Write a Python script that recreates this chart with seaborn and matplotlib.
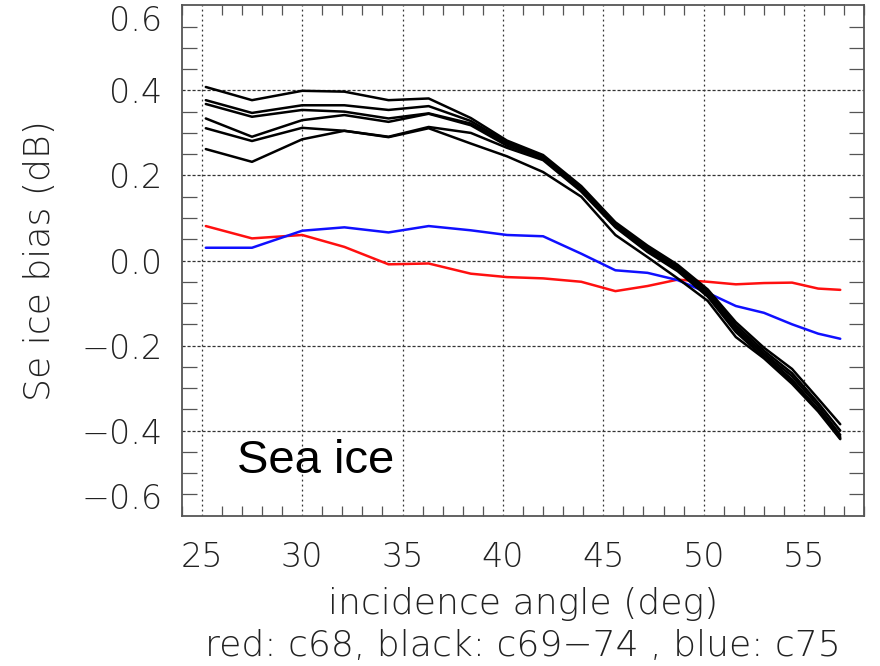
import matplotlib
matplotlib.use("Agg")
import matplotlib.pyplot as plt
from matplotlib.ticker import MultipleLocator
import seaborn as sns
import numpy as np
import pandas as pd

# ---- data ----
angles = [25.2, 27.5, 30.0, 32.1, 34.3, 36.3, 38.4, 40.2, 42.0, 43.9,
          45.6, 47.2, 48.7, 50.2, 51.6, 53.0, 54.4, 55.7, 56.8]

red_c68 = [0.081, 0.052, 0.060, 0.032, -0.009, -0.007, -0.031, -0.039, -0.042, -0.050,
           -0.072, -0.060, -0.045, -0.050, -0.056, -0.053, -0.052, -0.066, -0.069]

blue_c75 = [0.030, 0.030, 0.070, 0.078, 0.066, 0.081, 0.071, 0.060, 0.057, 0.016,
            -0.023, -0.029, -0.046, -0.076, -0.107, -0.123, -0.150, -0.172, -0.184]

black_c69 = [0.408, 0.377, 0.399, 0.397, 0.377, 0.381, 0.335, 0.282, 0.248, 0.175,
             0.090, 0.035, -0.010, -0.068, -0.145, -0.205, -0.255, -0.325, -0.385]
black_c70 = [0.377, 0.347, 0.365, 0.365, 0.354, 0.363, 0.328, 0.278, 0.245, 0.170,
             0.085, 0.030, -0.015, -0.072, -0.152, -0.212, -0.265, -0.335, -0.400]
black_c71 = [0.368, 0.338, 0.354, 0.350, 0.334, 0.346, 0.322, 0.275, 0.242, 0.168,
             0.083, 0.027, -0.018, -0.078, -0.158, -0.218, -0.272, -0.342, -0.410]
black_c72 = [0.334, 0.291, 0.330, 0.342, 0.326, 0.345, 0.318, 0.270, 0.240, 0.165,
             0.080, 0.022, -0.022, -0.082, -0.163, -0.222, -0.280, -0.350, -0.415]
black_c73 = [0.311, 0.281, 0.312, 0.305, 0.291, 0.314, 0.300, 0.265, 0.236, 0.162,
             0.078, 0.020, -0.025, -0.085, -0.168, -0.228, -0.285, -0.352, -0.418]
black_c74 = [0.262, 0.232, 0.285, 0.305, 0.290, 0.311, 0.275, 0.245, 0.208, 0.150,
             0.060, 0.008, -0.042, -0.095, -0.180, -0.230, -0.290, -0.355, -0.420]

x_ticks = [25, 30, 35, 40, 45, 50, 55]
y_ticks = [-0.6, -0.4, -0.2, 0.0, 0.2, 0.4, 0.6]
y_ticklabels = ["\u22120.6", "\u22120.4", "\u22120.2", "0.0", "0.2", "0.4", "0.6"]

series = {"c68": red_c68, "c75": blue_c75,
          "c69": black_c69, "c70": black_c70, "c71": black_c71,
          "c72": black_c72, "c73": black_c73, "c74": black_c74}
colors = {"c68": "#ff1010", "c75": "#1010ff"}

rows = []
for name, vals in series.items():
    for a, v in zip(angles, vals):
        rows.append({"angle": a, "bias": v, "channel": name})
df = pd.DataFrame(rows)

# ---- plotting ----
sns.set_theme(style="white")
plt.rcParams["font.family"] = ["DejaVu Sans"]

fig = plt.figure(figsize=(8.8, 6.66), dpi=100)
ax = fig.add_axes([0.2065, 0.2257, 0.7757, 0.7663])

for name in series:
    sub = df[df["channel"] == name]
    sns.lineplot(data=sub, x="angle", y="bias", ax=ax,
                 color=colors.get(name, "black"), linewidth=1.8,
                 estimator=None, sort=False, legend=False)

ax.set_xlim(24, 58)
ax.set_ylim(-0.6, 0.6)

ax.set_xticks(x_ticks)
ax.set_xticklabels([str(t) for t in x_ticks])
ax.set_yticks(y_ticks)
ax.set_yticklabels(y_ticklabels)
ax.xaxis.set_minor_locator(MultipleLocator(1))
ax.yaxis.set_minor_locator(MultipleLocator(0.05))

ax.tick_params(which="major", length=0, labelsize=24, pad=14, colors="#222222",
               labelcolor="#222222")
ax.tick_params(axis="x", which="major", pad=18)
ax.tick_params(which="minor", direction="in", top=True, right=True,
               bottom=True, left=True, color="#555555", width=0.9)
ax.tick_params(axis="x", which="minor", length=7)
ax.tick_params(axis="y", which="minor", length=11)

for lab in ax.get_xticklabels() + ax.get_yticklabels():
    lab.set_fontweight("light")

# edge labels pushed inward as in the reference
ylabs = ax.get_yticklabels()
ylabs[-1].set_va("top")
ylabs[0].set_va("bottom")

# gridlines (exclude the edge values)
for t in x_ticks:
    ax.axvline(t, color="#333333", linestyle=(0, (1.5, 2.5)), linewidth=0.9, zorder=0)
for t in y_ticks[1:-1]:
    ax.axhline(t, color="#333333", linestyle=(0, (2.5, 1.5)), linewidth=0.9, zorder=0)

for sp in ax.spines.values():
    sp.set_color("#555555")
    sp.set_linewidth(1.3)

ax.set_xlabel("")
ax.set_ylabel("")

fig.text(0.046, 0.2257 + 0.7663 / 2, "Se ice bias (dB)", rotation=90,
         ha="center", va="center", fontsize=26, color="#222222", fontweight="light")
fig.text(0.594, 1 - 604 / 666, "incidence angle (deg)", ha="center", va="center",
         fontsize=26, color="#222222", fontweight="light")
fig.text(0.594, 1 - 656 / 666, "red: c68, black: c69\u221274 , blue: c75",
         ha="center", va="baseline", fontsize=26, color="#222222", fontweight="light")

ax.text(26.75, -0.50, "Sea ice", ha="left", va="baseline", fontsize=34,
        color="black", family=["Liberation Sans", "DejaVu Sans"])

fig.savefig("out.png", dpi=100)
